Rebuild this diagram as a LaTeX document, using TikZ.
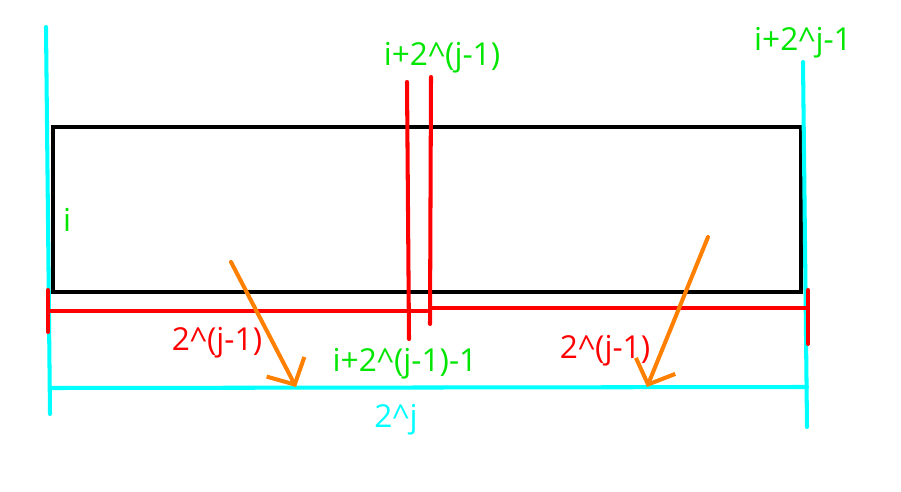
\documentclass[tikz,border=0pt]{standalone}
\usepackage{fontspec}
\setmainfont{Open Sans}
\usetikzlibrary{arrows.meta}
\definecolor{segcyan}{RGB}{0,255,255}
\definecolor{seggreen}{RGB}{0,230,0}
\definecolor{segred}{RGB}{255,0,0}
\definecolor{segorange}{RGB}{255,128,0}
\newcommand{\pw}{\textasciicircum}
\begin{document}
\begin{tikzpicture}[x=0.02cm,y=-0.02cm,line width=2.3pt,line cap=round,>={Straight Barb[length=0.4cm,width=0.85cm]},every node/.style={font=\fontsize{18}{20}\selectfont,inner sep=0pt}]
\useasboundingbox (0,0) rectangle (901,492);
% the block
\draw[black,line cap=butt] (53,127) rectangle (801,292);
% whole range
\coordinate (cl1) at (46,27);
\coordinate (cl2) at (50,414);
\coordinate (cr1) at (803,62);
\coordinate (cr2) at (807,427);
\draw[segcyan] (cl1) -- (cl2);
\draw[segcyan] (cr1) -- (cr2);
\draw[segcyan] (50,388) -- (807,387);
% two halves
\draw[segred] (48,290) -- (48,332);
\draw[segred] (48,311) -- (427,311);
\draw[segred] (432,308) -- (808,308);
\draw[segred] (808,290) -- (808,344);
\draw[segred] (407,82) -- (409,339);
\draw[segred] (431,77) -- (430,324);
% labels
\node[text=seggreen] (i) at (67,220) {i};
\node[text=seggreen] (mid) at (442,58) {i+2\pw(j-1)};
\node[text=seggreen] (last) at (803,43) {i+2\pw j-1};
\node[text=seggreen] (midl) at (405,364) {i+2\pw(j-1)-1};
\node[text=segred] (hl) at (217,343) {2\pw(j-1)};
\node[text=segred] (hr) at (605,351) {2\pw(j-1)};
\node[text=segcyan] (full) at (396,420) {2\pw j};
% pointers
\coordinate (a1) at (231,262);
\coordinate (t1) at (296,387);
\coordinate (a2) at (708,237);
\coordinate (t2) at (647,387);
\draw[segorange,->] (a1) -- (t1);
\draw[segorange,->] (a2) -- (t2);
\end{tikzpicture}
\end{document}
